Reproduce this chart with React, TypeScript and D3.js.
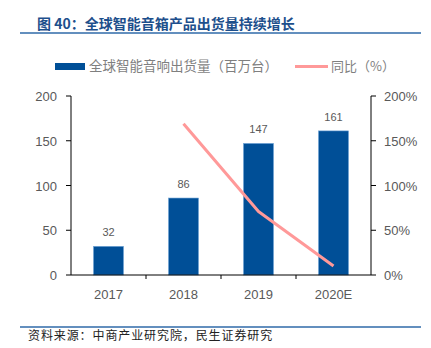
import React from "react";
import * as d3 from "d3";

const categories = ["2017", "2018", "2019", "2020E"];
const shipments = [32, 86, 147, 161];
const yoy: (number | null)[] = [null, 169, 71, 10];
const leftTicks = [0, 50, 100, 150, 200];
const rightTicks = [0, 50, 100, 150, 200];

const W = 431, H = 348;
const left = 71, right = 371, top = 96, bottom = 275;

export default function App() {
  const x = d3.scaleBand<string>().domain(categories).range([left, right]).paddingInner(0.6).paddingOuter(0.3);
  const xb = d3.scaleBand<string>().domain(categories).range([left, right]);
  const y = d3.scaleLinear().domain([0, 200]).range([bottom, top]);
  const y2 = d3.scaleLinear().domain([0, 200]).range([bottom, top]);
  const line = d3.line<[string, number | null]>()
    .defined(d => d[1] !== null)
    .x(d => (xb(d[0]) as number) + xb.bandwidth() / 2)
    .y(d => y2(d[1] as number));
  const pts = categories.map((c, i) => [c, yoy[i]] as [string, number | null]);
  const grey = "#595959";
  const font = "'Liberation Sans', Arial, sans-serif";
  const cjk = "'Noto Sans CJK SC', sans-serif";
  return (
    <svg width={W} height={H} style={{ position: "absolute", left: 0, top: 0, background: "#fff" }}>
      <text x={37} y={29} fontFamily={cjk} fontWeight="bold" fontSize={14} fill="#1d4f8c">图 40：全球智能音箱产品出货量持续增长</text>
      <line x1={20} x2={421} y1={33} y2={33} stroke="#2f6aa8" strokeWidth={1.5} />
      {/* legend */}
      <rect x={55} y={63} width={30} height={7} fill="#004f97" />
      <text x={89} y={71} fontFamily={cjk} fontSize={13.5} fill="#7f7f7f">全球智能音响出货量（百万台）</text>
      <line x1={295} x2={328} y1={66.5} y2={66.5} stroke="#ff9999" strokeWidth={3} />
      <text x={331} y={71} fontFamily={cjk} fontSize={13} fill="#7f7f7f">同比（%）</text>
      {/* bars */}
      {categories.map((c, i) => (
        <g key={c}>
          <rect x={x(c)} y={y(shipments[i])} width={x.bandwidth()} height={bottom - y(shipments[i])} fill="#004f97" stroke="#6fa3d6" strokeWidth={0.6} />
          <text x={(x(c) as number) + x.bandwidth() / 2} y={y(shipments[i]) - 10} textAnchor="middle" fontFamily={font} fontSize={11} fill={grey}>{shipments[i]}</text>
        </g>
      ))}
      {/* line */}
      <path d={line(pts) || ""} fill="none" stroke="#ff9999" strokeWidth={3} strokeLinejoin="round" />
      {/* left axis */}
      <line x1={left} x2={left} y1={top} y2={bottom} stroke="#000" strokeWidth={1} />
      {leftTicks.map(t => (
        <g key={"l" + t}>
          <line x1={left - 5} x2={left} y1={y(t)} y2={y(t)} stroke="#000" />
          <text x={left - 14} y={y(t) + 5} textAnchor="end" fontFamily={font} fontSize={13} fill={grey}>{t}</text>
        </g>
      ))}
      {/* right axis */}
      <line x1={right} x2={right} y1={top} y2={bottom} stroke="#000" strokeWidth={1} />
      {rightTicks.map(t => (
        <g key={"r" + t}>
          <line x1={right} x2={right + 5} y1={y2(t)} y2={y2(t)} stroke="#000" />
          <text x={384} y={y2(t) + 5} textAnchor="start" fontFamily={font} fontSize={13} fill={grey}>{t}%</text>
        </g>
      ))}
      {/* x axis */}
      <line x1={left} x2={right} y1={bottom} y2={bottom} stroke="#000" strokeWidth={1} />
      {categories.map((c, i) => (
        <g key={"x" + c}>
          {i > 0 && <line x1={xb(c)} x2={xb(c)} y1={bottom} y2={bottom + 4} stroke="#000" />}
          <text x={(xb(c) as number) + xb.bandwidth() / 2} y={299} textAnchor="middle" fontFamily={font} fontSize={13} fill={grey}>{c}</text>
        </g>
      ))}
      <line x1={20} x2={421} y1={327} y2={327} stroke="#2f6aa8" strokeWidth={1.5} />
      <text x={28} y={340} fontFamily={cjk} fontSize={12} letterSpacing={0.9} fill="#222">资料来源：中商产业研究院，民生证券研究</text>
    </svg>
  );
}
